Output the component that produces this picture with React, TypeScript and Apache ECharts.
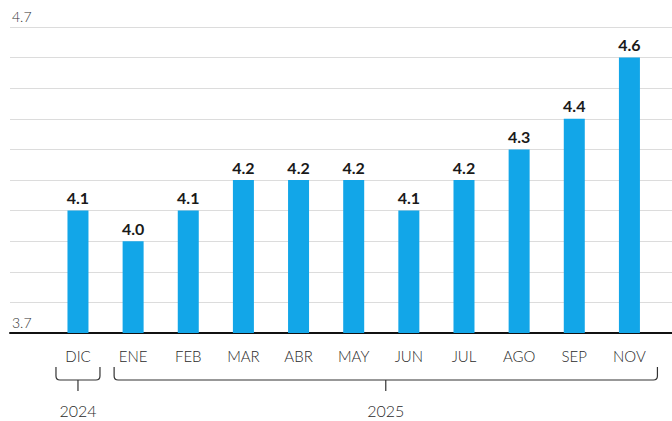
import React, { useEffect, useRef } from "react";
import * as echarts from "echarts";

const months = ["DIC", "ENE", "FEB", "MAR", "ABR", "MAY", "JUN", "JUL", "AGO", "SEP", "NOV"];
const rates = [4.1, 4.0, 4.1, 4.2, 4.2, 4.2, 4.1, 4.2, 4.3, 4.4, 4.6];
const yearLabels = ["2024", "2025"];
const yearRanges = [
  [0, 0],
  [1, 10],
];
const yMin = 3.7;
const yMax = 4.7;
const yStep = 0.1;

export default function App() {
  const ref = useRef<HTMLDivElement>(null);
  useEffect(() => {
    document.body.style.margin = "0";
    const chart = echarts.init(ref.current!, null, { renderer: "svg" });
    const font = "Lato, 'Open Sans', sans-serif";
    chart.setOption({
      animation: false,
      backgroundColor: "#ffffff",
      textStyle: { fontFamily: font },
      grid: [
        { left: 10, right: 0, top: 27, bottom: 88 },
        { left: 50.4, right: 15, top: 27, bottom: 88 },
      ],
      xAxis: [
        {
          type: "value",
          gridIndex: 0,
          min: 0,
          max: 1,
          axisLine: { show: true, lineStyle: { color: "#111", width: 2 } },
          axisTick: { show: false },
          axisLabel: { show: false },
          splitLine: { show: false },
        },
        {
          type: "category",
          gridIndex: 1,
          data: months,
          axisLine: { show: false },
          axisTick: { show: false },
          axisLabel: { color: "#2a2a2a", fontSize: 15, fontWeight: 300, margin: 15, fontFamily: font },
        },
      ],
      yAxis: [
        {
          type: "value",
          gridIndex: 0,
          min: yMin,
          max: yMax,
          interval: yStep,
          axisLine: { show: false },
          axisTick: { show: false },
          splitLine: { show: true, lineStyle: { color: "#dcdcdc", width: 1 } },
          axisLabel: {
            inside: true,
            margin: 2,
            verticalAlign: "bottom",
            padding: [0, 0, 4, 0],
            color: "#333",
            fontSize: 14,
            fontWeight: 300,
            fontFamily: font,
            formatter: (v: number) =>
              Math.abs(v - yMin) < 1e-6 || Math.abs(v - yMax) < 1e-6 ? v.toFixed(1) : "",
          },
        },
        {
          type: "value",
          gridIndex: 1,
          min: yMin,
          max: yMax,
          interval: yStep,
          show: false,
          splitLine: { show: false },
        },
      ],
      series: [
        {
          type: "bar",
          xAxisIndex: 1,
          yAxisIndex: 1,
          data: rates,
          barWidth: 21,
          itemStyle: { color: "#12a6e8" },
          label: {
            show: true,
            position: "top",
            distance: 5,
            color: "#1a1a1a",
            fontSize: 16,
            fontWeight: "bold",
            fontFamily: font,
            formatter: (p: any) => Number(p.value).toFixed(1),
          },
        },
        {
          type: "custom",
          xAxisIndex: 1,
          yAxisIndex: 1,
          clip: false,
          silent: true,
          data: yearRanges.map((r) => [r[0], r[1]]),
          renderItem: (params: any, api: any) => {
            const s = api.value(0);
            const e = api.value(1);
            const ps = api.coord([s, yMin]);
            const pe = api.coord([e, yMin]);
            const y0 = ps[1];
            const L = ps[0] - (s === 0 ? 22 : 19);
            const R = pe[0] + (e === s ? 22 : 28);
            const C = (L + R) / 2;
            const T = y0 + 34;
            const B = y0 + 47;
            const r = 4;
            const d = `M${L} ${T} L${L} ${B - r} Q${L} ${B} ${L + r} ${B} L${R - r} ${B} Q${R} ${B} ${R} ${B - r} L${R} ${T} M${C} ${B} L${C} ${B + 11}`;
            return {
              type: "group",
              children: [
                {
                  type: "path",
                  shape: { pathData: d },
                  style: { fill: "none", stroke: "#333", lineWidth: 1.2 },
                },
                {
                  type: "text",
                  style: {
                    x: C,
                    y: y0 + 77,
                    text: yearLabels[params.dataIndex],
                    align: "center",
                    verticalAlign: "middle",
                    fontSize: 16,
                    fontWeight: 300,
                    fontFamily: font,
                    fill: "#2a2a2a",
                  },
                },
              ],
            };
          },
        },
      ],
    });
    return () => chart.dispose();
  }, []);
  return <div ref={ref} style={{ width: 672, height: 421 }} />;
}
